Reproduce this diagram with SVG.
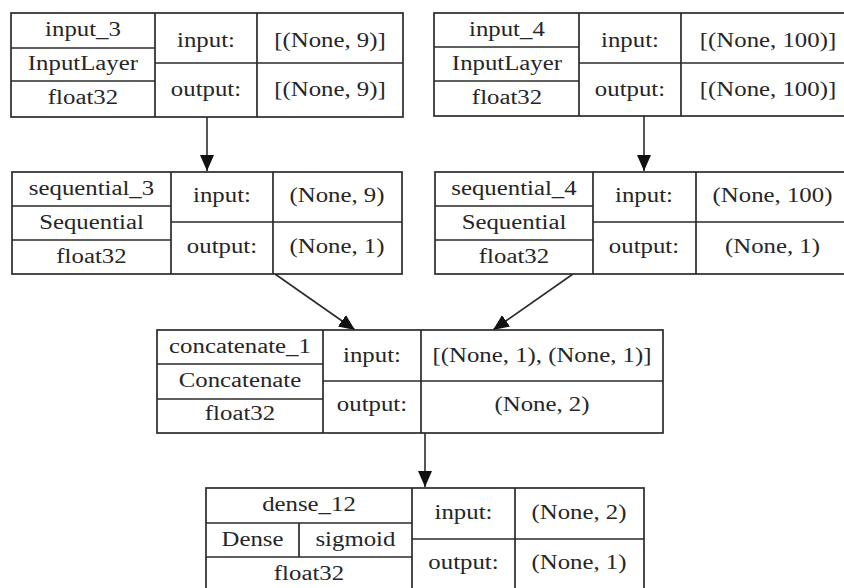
<svg xmlns="http://www.w3.org/2000/svg" width="844" height="588" viewBox="0 0 844 588">
  <defs>
    <style>
      .box { fill: #ffffff; stroke: #2b2b2b; stroke-width: 1.7; }
      .rule { stroke: #2b2b2b; stroke-width: 1.7; fill: none; }
      .edge { stroke: #2b2b2b; stroke-width: 1.6; fill: none; marker-end: url(#arrow); }
      text { font-family: "Liberation Serif", "Times New Roman", serif; font-size: 20.5px; fill: #262626; text-anchor: middle;
             transform-box: fill-box; transform-origin: center; transform: scaleX(1.21); }
    </style>
    <marker id="arrow" markerUnits="userSpaceOnUse" markerWidth="18" markerHeight="16" refX="16" refY="7" orient="auto">
      <path d="M0,0 L16,7 L0,14 Z" fill="#111111"/>
    </marker>
  </defs>
  <rect width="844" height="588" fill="#ffffff"/>

  <g id="connectors">
    <line class="edge" x1="207" y1="117" x2="207" y2="171"/>
    <line class="edge" x1="644" y1="116" x2="644" y2="171"/>
    <line class="edge" x1="275" y1="274" x2="355" y2="330"/>
    <line class="edge" x1="573" y1="274" x2="493" y2="330"/>
    <line class="edge" x1="425" y1="433" x2="425" y2="487"/>
  </g>

  <!-- input_3 : InputLayer -->
  <g id="input_3">
    <rect class="box" x="11" y="13" width="392" height="104"/>
    <path class="rule" d="M155,13 V117 M257,13 V117 M11,48 H155 M11,81 H155 M155,63 H403"/>
    <text x="83" y="36">input_3</text>
    <text x="83" y="70.5">InputLayer</text>
    <text x="83" y="104">float32</text>
    <text x="206" y="47.5">input:</text>
    <text x="206" y="96">output:</text>
    <text x="330" y="47.5">[(None, 9)]</text>
    <text x="330" y="96">[(None, 9)]</text>
  </g>

  <!-- input_4 : InputLayer -->
  <g id="input_4">
    <rect class="box" x="434" y="13" width="421" height="103"/>
    <path class="rule" d="M579,13 V116 M681,13 V116 M434,47 H579 M434,81 H579 M579,63 H855"/>
    <text x="507" y="36">input_4</text>
    <text x="507" y="70">InputLayer</text>
    <text x="507" y="104">float32</text>
    <text x="630" y="47.5">input:</text>
    <text x="630" y="96">output:</text>
    <text x="768" y="47.5">[(None, 100)]</text>
    <text x="768" y="96">[(None, 100)]</text>
  </g>

  <!-- sequential_3 : Sequential -->
  <g id="sequential_3">
    <rect class="box" x="12" y="172" width="390" height="102"/>
    <path class="rule" d="M171,172 V274 M273,172 V274 M12,206 H171 M12,240 H171 M171,222 H402"/>
    <text x="91.5" y="195">sequential_3</text>
    <text x="91.5" y="229">Sequential</text>
    <text x="91.5" y="263">float32</text>
    <text x="222" y="202">input:</text>
    <text x="222" y="253">output:</text>
    <text x="337" y="202">(None, 9)</text>
    <text x="337" y="253">(None, 1)</text>
  </g>

  <!-- sequential_4 : Sequential -->
  <g id="sequential_4">
    <rect class="box" x="435" y="172" width="414" height="102"/>
    <path class="rule" d="M593,172 V274 M696,172 V274 M435,206 H593 M435,240 H593 M593,222 H849"/>
    <text x="514" y="195">sequential_4</text>
    <text x="514" y="229">Sequential</text>
    <text x="514" y="263">float32</text>
    <text x="644" y="202">input:</text>
    <text x="644" y="253">output:</text>
    <text x="772.5" y="202">(None, 100)</text>
    <text x="772.5" y="253">(None, 1)</text>
  </g>

  <!-- concatenate_1 : Concatenate -->
  <g id="concatenate_1">
    <rect class="box" x="157" y="330" width="506" height="103"/>
    <path class="rule" d="M323,330 V433 M421,330 V433 M157,364 H323 M157,399 H323 M323,381 H663"/>
    <text x="240" y="353">concatenate_1</text>
    <text x="240" y="387">Concatenate</text>
    <text x="240" y="420">float32</text>
    <text x="372" y="362">input:</text>
    <text x="372" y="411.5">output:</text>
    <text x="542" y="362">[(None, 1), (None, 1)]</text>
    <text x="542" y="411.5">(None, 2)</text>
  </g>

  <!-- dense_12 : Dense, sigmoid -->
  <g id="dense_12">
    <rect class="box" x="206" y="488" width="438" height="104"/>
    <path class="rule" d="M412,488 V592 M515,488 V592 M206,523 H412 M206,557 H412 M299,523 V557 M412,539 H644"/>
    <text x="309" y="511">dense_12</text>
    <text x="252.5" y="546.5">Dense</text>
    <text x="355.5" y="546.5">sigmoid</text>
    <text x="309" y="580">float32</text>
    <text x="463.5" y="519">input:</text>
    <text x="463.5" y="569">output:</text>
    <text x="579" y="519">(None, 2)</text>
    <text x="579" y="569">(None, 1)</text>
  </g>
</svg>
